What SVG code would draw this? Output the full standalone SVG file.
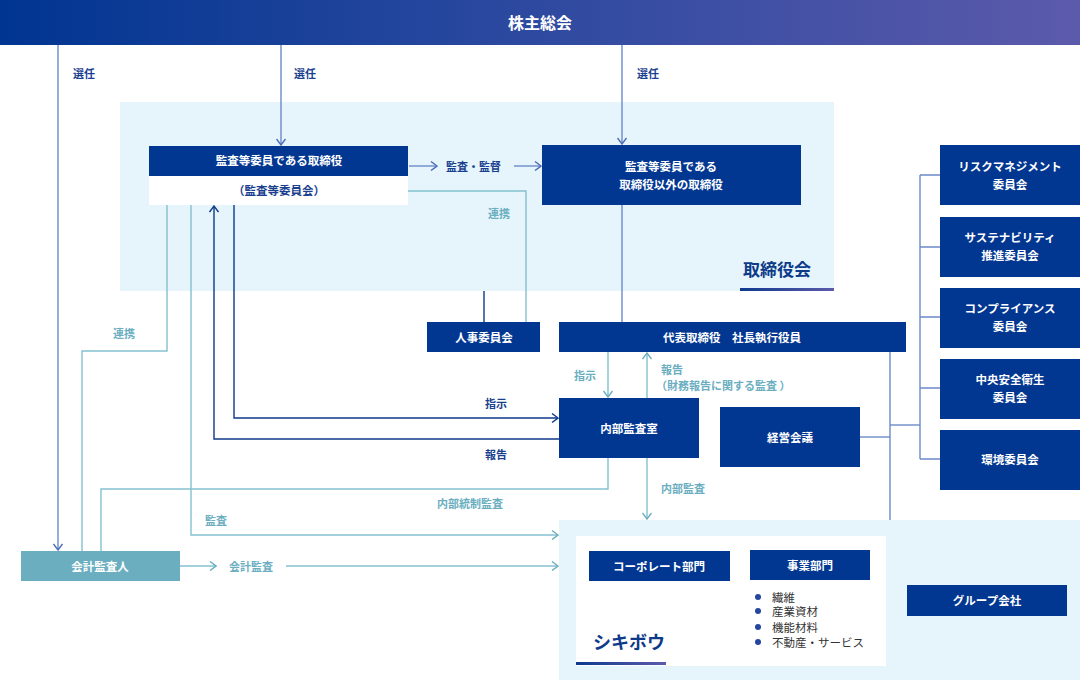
<svg xmlns="http://www.w3.org/2000/svg" width="1080" height="680" viewBox="0 0 1080 680">
<defs>
<linearGradient id="hdr" x1="0" y1="0" x2="1" y2="0">
<stop offset="0" stop-color="#003591"/>
<stop offset="0.5" stop-color="#2e4aa0"/>
<stop offset="1" stop-color="#5c5aab"/>
</linearGradient>
<linearGradient id="ul" x1="0" y1="0" x2="1" y2="0">
<stop offset="0" stop-color="#0d3a8e"/>
<stop offset="1" stop-color="#5c5aab"/>
</linearGradient>
<marker id="aB" viewBox="0 0 10 10" markerWidth="10" markerHeight="10" refX="9" refY="5" orient="auto" markerUnits="userSpaceOnUse"><path d="M3,0.5 L9,5 L3,9.5" fill="none" stroke="#4a6cb6" stroke-width="1.4"/></marker>
<marker id="aD" viewBox="0 0 10 10" markerWidth="10" markerHeight="10" refX="9" refY="5" orient="auto" markerUnits="userSpaceOnUse"><path d="M3,0.5 L9,5 L3,9.5" fill="none" stroke="#0e3a8a" stroke-width="1.4"/></marker>
<marker id="aT" viewBox="0 0 10 10" markerWidth="10" markerHeight="10" refX="9" refY="5" orient="auto" markerUnits="userSpaceOnUse"><path d="M3,0.5 L9,5 L3,9.5" fill="none" stroke="#6aaebf" stroke-width="1.4"/></marker>
</defs>
<style>
text{font-family:"Noto Sans CJK JP","Noto Sans",sans-serif;}
.box{fill:#023791;}
.wt{fill:#ffffff;font-size:11.5px;font-weight:700;text-anchor:middle;dominant-baseline:central;}
.lbD{fill:#1a3f8f;font-size:11px;font-weight:700;dominant-baseline:central;}
.lbT{fill:#6aaebf;font-size:11px;font-weight:700;dominant-baseline:central;}
.cB{fill:none;stroke:#6a8bc9;stroke-width:1.4;}
.cD{fill:none;stroke:#0e3a8a;stroke-width:1.4;}
.cT{fill:none;stroke:#84c1cf;stroke-width:1.4;}
.bl{fill:#e6f4fb;}
.li{fill:#333333;font-size:11.5px;dominant-baseline:central;}
</style>

<g id="backgrounds">
<rect class="bl" x="120" y="102" width="714" height="189"/>
<rect x="740" y="288" width="94" height="3" fill="url(#ul)"/>
<text x="777" y="268" fill="#0e3a8a" font-size="17" font-weight="700" text-anchor="middle" dominant-baseline="central">取締役会</text>
<rect class="bl" x="559" y="520" width="521" height="160"/>
<rect x="576" y="536" width="310" height="130" fill="#ffffff"/>
<rect x="576" y="662" width="90" height="3" fill="url(#ul)"/>
<text x="593" y="641" fill="#0e3a8a" font-size="18" font-weight="700" dominant-baseline="central">シキボウ</text>
</g>

<g id="connectors">
<path class="cB" d="M58,45 V550" marker-end="url(#aB)"/>
<path class="cB" d="M281,45 V145" marker-end="url(#aB)"/>
<path class="cB" d="M622,45 V144" marker-end="url(#aB)"/>
<path class="cB" d="M409,166 H437" marker-end="url(#aB)"/>
<path class="cB" d="M514,166 H541" marker-end="url(#aB)"/>
<path class="cB" d="M622,205 V322"/>
<path class="cB" d="M890,352 V520"/>
<path class="cB" d="M860,437 H890"/>
<path class="cB" d="M890,425 H920"/>
<path class="cB" d="M920,175 V459"/>
<path class="cB" d="M920,175 H940 M920,247 H940 M920,317 H940 M920,388 H940 M920,459 H940"/>
<path class="cD" d="M234,205 V418 H558" marker-end="url(#aD)"/>
<path class="cD" d="M559,439 H214 V206" marker-end="url(#aD)"/>
<path class="cD" d="M484,291 V322"/>
<path class="cT" d="M408,191 H526 V322"/>
<path class="cT" d="M167,205 V351 H82 V551"/>
<path class="cT" d="M191,205 V535 H558" marker-end="url(#aT)"/>
<path class="cT" d="M101,551 V489 H608 V458"/>
<path class="cT" d="M180,566 H216" marker-end="url(#aT)"/>
<path class="cT" d="M286,566 H558" marker-end="url(#aT)"/>
<path class="cT" d="M608,352 V397" marker-end="url(#aT)"/>
<path class="cT" d="M647,398 V353" marker-end="url(#aT)"/>
<path class="cT" d="M647,458 V519" marker-end="url(#aT)"/>
</g>

<g id="labels">
<text class="lbD" x="73" y="73">選任</text>
<text class="lbD" x="294" y="73">選任</text>
<text class="lbD" x="637" y="73">選任</text>
<text class="lbD" x="446" y="166">監査・監督</text>
<text class="lbT" x="488" y="213">連携</text>
<text class="lbT" x="113" y="333">連携</text>
<text class="lbD" x="485" y="403">指示</text>
<text class="lbD" x="485" y="454">報告</text>
<text class="lbT" x="437" y="503">内部統制監査</text>
<text class="lbT" x="205" y="520">監査</text>
<text class="lbT" x="229" y="566">会計監査</text>
<text class="lbT" x="574" y="375">指示</text>
<text class="lbT" x="661" y="369">報告</text>
<text class="lbT" x="656" y="385">（財務報告に関する監査 ）</text>
<text class="lbT" x="661" y="488">内部監査</text>
</g>

<g id="n-shareholders">
<rect x="0" y="0" width="1080" height="45" fill="url(#hdr)"/>
<text x="540" y="22" fill="#ffffff" font-size="16" font-weight="700" text-anchor="middle" dominant-baseline="central">株主総会</text>
</g>

<g id="n-audit-committee-directors">
<rect class="box" x="149" y="146" width="259" height="30"/>
<rect x="149" y="176" width="259" height="29" fill="#ffffff"/>
<text class="wt" x="279" y="160">監査等委員である取締役</text>
<text class="wt" x="279" y="190" style="fill:#1a3f8f">（監査等委員会）</text>
</g>

<g id="n-other-directors">
<rect class="box" x="542" y="145" width="259" height="60"/>
<text class="wt" x="671" y="166">監査等委員である</text>
<text class="wt" x="671" y="184">取締役以外の取締役</text>
</g>

<g id="n-nomination">
<rect class="box" x="427" y="322" width="113" height="30"/>
<text class="wt" x="484" y="337">人事委員会</text>
</g>

<g id="n-president">
<rect class="box" x="559" y="322" width="347" height="30"/>
<text class="wt" x="732" y="337">代表取締役　社長執行役員</text>
</g>

<g id="n-internal-audit">
<rect class="box" x="559" y="398" width="140" height="60"/>
<text class="wt" x="629" y="428">内部監査室</text>
</g>

<g id="n-management">
<rect class="box" x="720" y="407" width="140" height="60"/>
<text class="wt" x="790" y="437">経営会議</text>
</g>

<g id="n-risk">
<rect class="box" x="940" y="145" width="140" height="60"/>
<text class="wt" x="1010" y="166">リスクマネジメント</text>
<text class="wt" x="1010" y="184">委員会</text>
</g>
<g id="n-sustain">
<rect class="box" x="940" y="217" width="140" height="60"/>
<text class="wt" x="1010" y="237">サステナビリティ</text>
<text class="wt" x="1010" y="255">推進委員会</text>
</g>
<g id="n-compliance">
<rect class="box" x="940" y="288" width="140" height="60"/>
<text class="wt" x="1010" y="308">コンプライアンス</text>
<text class="wt" x="1010" y="326">委員会</text>
</g>
<g id="n-safety">
<rect class="box" x="940" y="359" width="140" height="60"/>
<text class="wt" x="1010" y="379">中央安全衛生</text>
<text class="wt" x="1010" y="397">委員会</text>
</g>
<g id="n-environment">
<rect class="box" x="940" y="430" width="140" height="60"/>
<text class="wt" x="1010" y="459">環境委員会</text>
</g>

<g id="n-accounting-auditor">
<rect x="21" y="551" width="159" height="30" fill="#6aaebf"/>
<text class="wt" x="100" y="566">会計監査人</text>
</g>

<g id="n-corporate">
<rect class="box" x="589" y="551" width="141" height="30"/>
<text class="wt" x="659" y="566">コーポレート部門</text>
</g>

<g id="n-business">
<rect class="box" x="750" y="550" width="120" height="30"/>
<text class="wt" x="810" y="565">事業部門</text>
<circle cx="758" cy="597" r="3" fill="#2446a0"/>
<circle cx="758" cy="611" r="3" fill="#2446a0"/>
<circle cx="758" cy="627" r="3" fill="#2446a0"/>
<circle cx="758" cy="642" r="3" fill="#2446a0"/>
<text class="li" x="772" y="597">繊維</text>
<text class="li" x="772" y="611">産業資材</text>
<text class="li" x="772" y="627">機能材料</text>
<text class="li" x="772" y="642">不動産・サービス</text>
</g>

<g id="n-group">
<rect class="box" x="907" y="585" width="160" height="31"/>
<text class="wt" x="987" y="600">グループ会社</text>
</g>
</svg>
